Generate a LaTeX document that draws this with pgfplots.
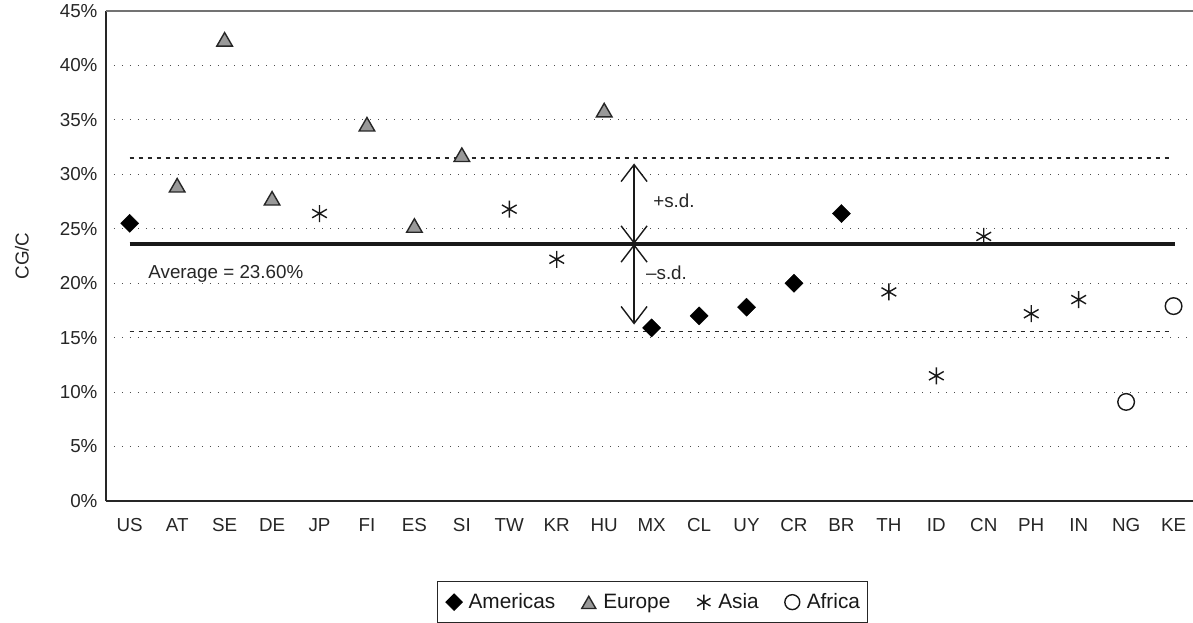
\documentclass[border=0pt]{standalone}
\usepackage{pgfplots}
\pgfplotsset{compat=1.18}
\usepackage{fontspec}
\setmainfont{Liberation Sans}
\usetikzlibrary{arrows.meta}
\definecolor{tri}{gray}{0.6}
\begin{document}
\begin{tikzpicture}
\begin{axis}[
  scale only axis, width=1087pt, height=490pt,
  xmin=-0.5, xmax=22.41, ymin=0, ymax=45,
  axis x line*=bottom, axis y line*=left,
  axis line style={line width=1.3pt, black!85},
  xtick={0,...,22},
  xticklabels={US,AT,SE,DE,JP,FI,ES,SI,TW,KR,HU,MX,CL,UY,CR,BR,TH,ID,CN,PH,IN,NG,KE},
  ytick={0,5,...,45},
  yticklabels={0\%,5\%,10\%,15\%,20\%,25\%,30\%,35\%,40\%,45\%},
  major tick length=0pt,
  tick label style={font=\fontsize{18.8}{22}\selectfont, text=black!85},
  xticklabel style={yshift=-14pt},
  yticklabel style={xshift=-5pt},
  ymajorgrids,
  grid style={dash pattern=on 1.3pt off 6.7pt, line width=1pt, black!70},
  ylabel={CG/C},
  ylabel style={font=\fontsize{18.8}{22}\selectfont, text=black!85, at={(axis description cs:-0.0773,0.5)}, anchor=center},
  legend style={at={(axis description cs:0.503,-0.163)}, anchor=north,
    legend columns=-1, draw=black!85, line width=1pt,
    inner xsep=6pt, inner ysep=10.5pt,
    font=\fontsize{20.8}{24}\selectfont, text=black!90,
    /tikz/every even column/.append style={column sep=21pt}},
  legend image code/.code={\path (0pt,0pt) (22pt,0pt); \draw[#1, /tikz/every mark/.append style={scale=0.9}] plot coordinates {(10pt,0pt)};},
  clip=false,
]
\coordinate (O) at (rel axis cs:0,0);
\draw[black!55, line width=1.6pt] (rel axis cs:0,1) -- (rel axis cs:1,1);

\addplot[only marks, mark=square*, mark size=6.4pt, mark options={rotate=45, fill=black, draw=black}]
  coordinates {(0,25.5) (11,15.9) (12,17.0) (13,17.8) (14,20.0) (15,26.4)};
\addlegendentry{Americas}
\addplot[only marks, mark=triangle*, mark size=9pt, mark options={fill=tri, draw=black!85, line width=1.4pt, yshift=-2.25pt}]
  coordinates {(1,29.0) (2,42.4) (3,27.8) (5,34.6) (6,25.3) (7,31.8) (10,35.9)};
\addlegendentry{Europe}
\addplot[only marks, mark=asterisk, mark size=8.5pt, mark options={draw=black!90, line width=1.4pt}]
  coordinates {(4,26.4) (8,26.8) (9,22.2) (16,19.2) (17,11.5) (18,24.3) (19,17.2) (20,18.5)};
\addlegendentry{Asia}
\addplot[only marks, mark=o, mark size=8.3pt, mark options={draw=black!90, line width=1.4pt}]
  coordinates {(21,9.1) (22,17.9)};
\addlegendentry{Africa}

\addplot[forget plot, line width=3.5pt, black!90] coordinates {(0,23.6) (22.04,23.6)};
\addplot[forget plot, dash pattern=on 4pt off 5pt, line width=1.5pt, black!85] coordinates {(0,31.5) (21.95,31.5)};
\addplot[forget plot, dash pattern=on 4pt off 5pt, line width=1.5pt, black!85] coordinates {(0,15.55) (21.95,15.55)};
\addplot[forget plot, line width=1.4pt, black!90, {Straight Barb[length=17pt,width=26pt]}-{Straight Barb[length=17pt,width=26pt]}] coordinates {(10.63,23.6) (10.63,31.0)};
\addplot[forget plot, line width=1.4pt, black!90, {Straight Barb[length=17pt,width=26pt]}-{Straight Barb[length=17pt,width=26pt]}] coordinates {(10.63,23.6) (10.63,16.2)};

\node[anchor=west, inner sep=0pt, font=\fontsize{18.8}{22}\selectfont, text=black!85] at (axis cs:11.03,27.6) {+s.d.};
\node[anchor=west, inner sep=0pt, font=\fontsize{18.8}{22}\selectfont, text=black!85] at (axis cs:10.88,21.0) {–s.d.};
\node[anchor=west, inner sep=0pt, font=\fontsize{18.8}{22}\selectfont, text=black!85] at (axis cs:0.39,20.9) {Average = 23.60\%};
\end{axis}
\pgfresetboundingbox
\path[use as bounding box] ([shift={(-106pt,-122pt)}]O) rectangle ++(1193pt,623pt);
\end{tikzpicture}
\end{document}
